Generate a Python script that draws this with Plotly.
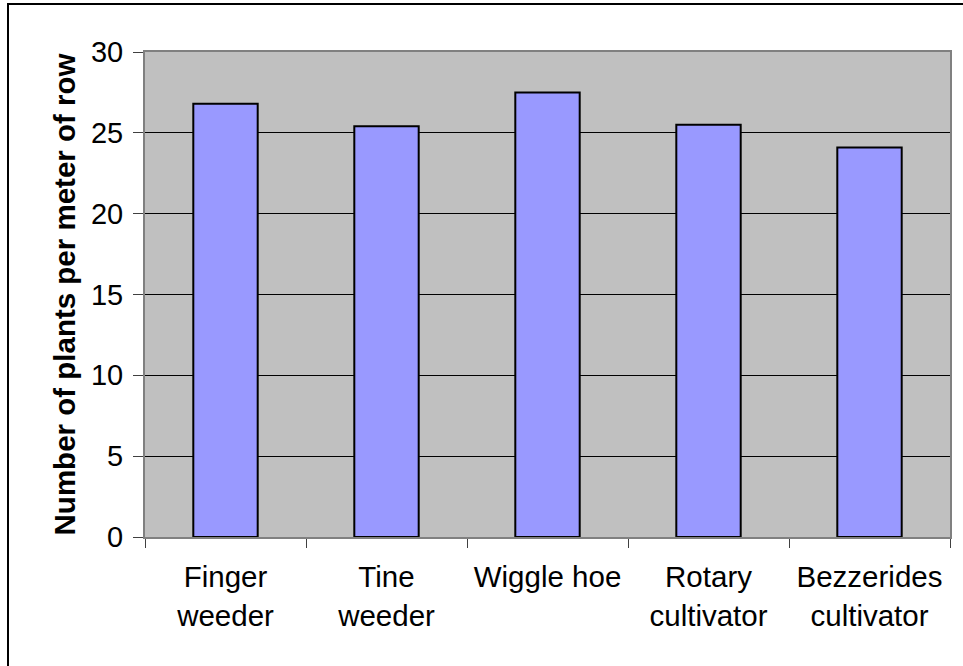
import plotly.graph_objects as go

# Chart data
categories = ["Finger<br>weeder", "Tine<br>weeder", "Wiggle hoe",
              "Rotary<br>cultivator", "Bezzerides<br>cultivator"]
plants_per_meter = [26.8, 25.4, 27.5, 25.5, 24.1]
y_ticks = [0, 5, 10, 15, 20, 25, 30]

W, H = 963, 666
margin = dict(l=145, r=13, t=52, b=129)
plot_w = W - margin["l"] - margin["r"]
plot_h = H - margin["t"] - margin["b"]

fig = go.Figure()

fig.add_trace(go.Bar(
    x=categories,
    y=plants_per_meter,
    marker=dict(color="#9999FF", line=dict(color="black", width=2)),
    showlegend=False,
))

# Outer chart border (top and left visible, right/bottom run off the page)
fig.add_shape(type="rect", xref="paper", yref="paper",
              x0=(8 - margin["l"]) / plot_w, x1=(W + 10 - margin["l"]) / plot_w,
              y0=-(H + 10 - margin["t"] - plot_h) / plot_h,
              y1=(margin["t"] - 4 + plot_h) / plot_h,
              line=dict(color="black", width=2), layer="below")

fig.update_layout(
    width=W, height=H,
    margin=margin,
    paper_bgcolor="white",
    plot_bgcolor="#C0C0C0",
    bargap=0.6,
    font=dict(family="Liberation Sans, Arial, sans-serif", size=29, color="black"),
)

fig.update_xaxes(
    tickson="boundaries",
    ticks="outside", ticklen=9, tickcolor="#404040", tickwidth=1,
    showline=True, linecolor="#808080", linewidth=2, mirror=True,
    showgrid=False,
    ticklabelstandoff=13,
    tickfont=dict(size=29.5),
)

fig.update_yaxes(
    range=[0, 30],
    tickvals=y_ticks,
    ticks="outside", ticklen=10, tickcolor="#404040", tickwidth=1,
    showline=True, linecolor="#808080", linewidth=2, mirror=True,
    showgrid=True, gridcolor="black", gridwidth=1,
    zeroline=True, zerolinecolor="black", zerolinewidth=1,
    ticklabelstandoff=4,
    tickfont=dict(size=29),
    title=dict(text="<b>Number of plants per meter of row</b>",
               font=dict(size=29.5), standoff=7),
)

fig.write_html("out.html", config={"displayModeBar": False},
               post_script="document.body.style.margin='0';")
